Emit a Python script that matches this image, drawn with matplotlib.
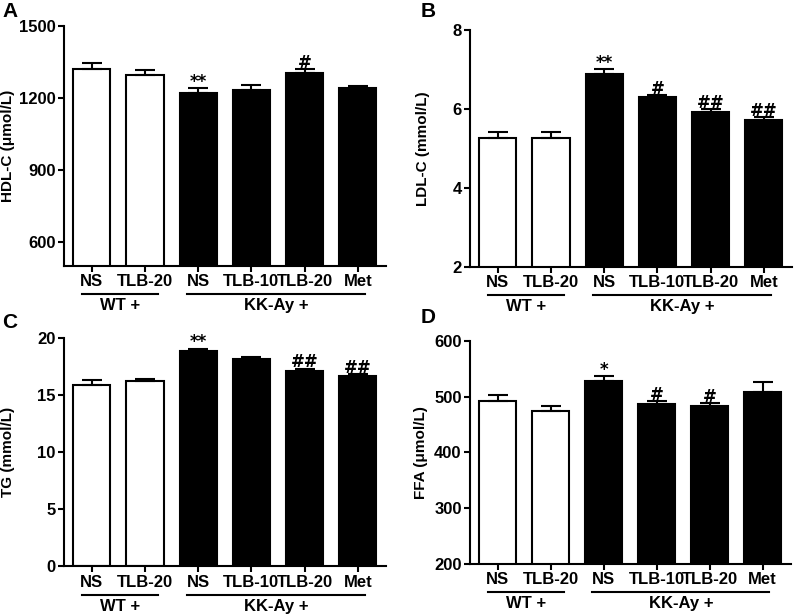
import numpy as np
import matplotlib.pyplot as plt
from matplotlib.transforms import ScaledTranslation

plt.rcParams['font.family'] = ['Liberation Sans', 'DejaVu Sans']
plt.rcParams['font.weight'] = 'bold'

# group labels and values
groups = ["NS", "TLB-20", "NS", "TLB-10", "TLB-20", "Met"]
bar_colors = ["white", "white", "black", "black", "black", "black"]

hdl = [1320, 1296, 1222, 1233, 1305, 1242]
hdl_err = [27, 21, 20, 22, 15, 8]
hdl_marks = ["", "", "**", "", "#", ""]

ldl = [5.27, 5.27, 6.89, 6.31, 5.93, 5.72]
ldl_err = [0.15, 0.15, 0.11, 0.05, 0.06, 0.08]
ldl_marks = ["", "", "**", "#", "##", "##"]

tg = [15.92, 16.21, 18.83, 18.19, 17.09, 16.70]
tg_err = [0.41, 0.23, 0.24, 0.18, 0.23, 0.15]
tg_marks = ["", "", "**", "", "##", "##"]

ffa = [493, 474, 529, 487, 484, 509]
ffa_err = [10, 10, 8, 5, 5, 18]
ffa_marks = ["", "", "*", "#", "#", ""]

fig = plt.figure(figsize=(7.96, 6.16), dpi=100)


def panel(rect, values, errs, marks, ylabel, label_x, ylim, yticks, letter, letter_xy):
    ax = fig.add_axes(rect)
    x = np.arange(len(values))
    ax.bar(x, values, width=0.7, color=bar_colors, edgecolor="black",
           linewidth=1.5, zorder=2)
    ax.errorbar(x, values, yerr=[np.zeros(len(errs)), errs], fmt="none",
                ecolor="black", elinewidth=1.5, capsize=7, capthick=1.5,
                zorder=3)
    for xi, v, e, m in zip(x, values, errs, marks):
        if m:
            ax.annotate(m, (xi, v + e), xytext=(0, -2), textcoords="offset points",
                        ha="center", va="bottom", fontsize=12, fontweight="bold",
                        family="DejaVu Sans")
    ax.set_xlim(-0.52, 5.53)
    ax.set_ylim(*ylim)
    ax.set_yticks(yticks)
    ax.set_xticks(x)
    ax.set_xticklabels(groups)
    ax.set_ylabel(ylabel, fontsize=11, fontweight="bold")
    ax.yaxis.set_label_coords(label_x, 0.5)
    for s in ["top", "right"]:
        ax.spines[s].set_visible(False)
    for s in ["left", "bottom"]:
        ax.spines[s].set_linewidth(1.5)
    ax.tick_params(width=1.5, length=4, labelsize=12, pad=2)

    # WT / KK-Ay group brackets below tick labels
    line_tr = ax.get_xaxis_transform() + ScaledTranslation(0, -0.285, fig.dpi_scale_trans)
    text_tr = ax.get_xaxis_transform() + ScaledTranslation(0, -0.40, fig.dpi_scale_trans)
    ax.plot([-0.19, 1.25], [0, 0], color="black", lw=1.5, transform=line_tr,
            clip_on=False)
    ax.plot([1.79, 5.13], [0, 0], color="black", lw=1.5, transform=line_tr,
            clip_on=False)
    ax.text(0.53, 0, "WT +", ha="center", va="center", fontsize=12,
            fontweight="bold", transform=text_tr)
    ax.text(3.46, 0, "KK-Ay +", ha="center", va="center", fontsize=12,
            fontweight="bold", transform=text_tr)
    fig.text(letter_xy[0], letter_xy[1], letter, fontsize=15, fontweight="bold",
             ha="left", va="top")
    return ax


panel([0.0804, 0.5682, 0.4046, 0.3896], hdl, hdl_err, hdl_marks,
      "HDL-C (μmol/L)", -0.152, (500, 1500), [600, 900, 1200, 1500], "A", (0.003, 0.997))
panel([0.5905, 0.5666, 0.4045, 0.3847], ldl, ldl_err, ldl_marks,
      "LDL-C (mmol/L)", -0.124, (2, 8), [2, 4, 6, 8], "B", (0.528, 0.997))
panel([0.0804, 0.0807, 0.4046, 0.3706], tg, tg_err, tg_marks,
      "TG (mmol/L)", -0.152, (0, 20), [0, 5, 10, 15, 20], "C", (0.003, 0.492))
panel([0.5905, 0.0849, 0.4028, 0.3615], ffa, ffa_err, ffa_marks,
      "FFA (μmol/L)", -0.131, (200, 600), [200, 300, 400, 500, 600], "D", (0.528, 0.500))

fig.savefig("out.png", dpi=100)
